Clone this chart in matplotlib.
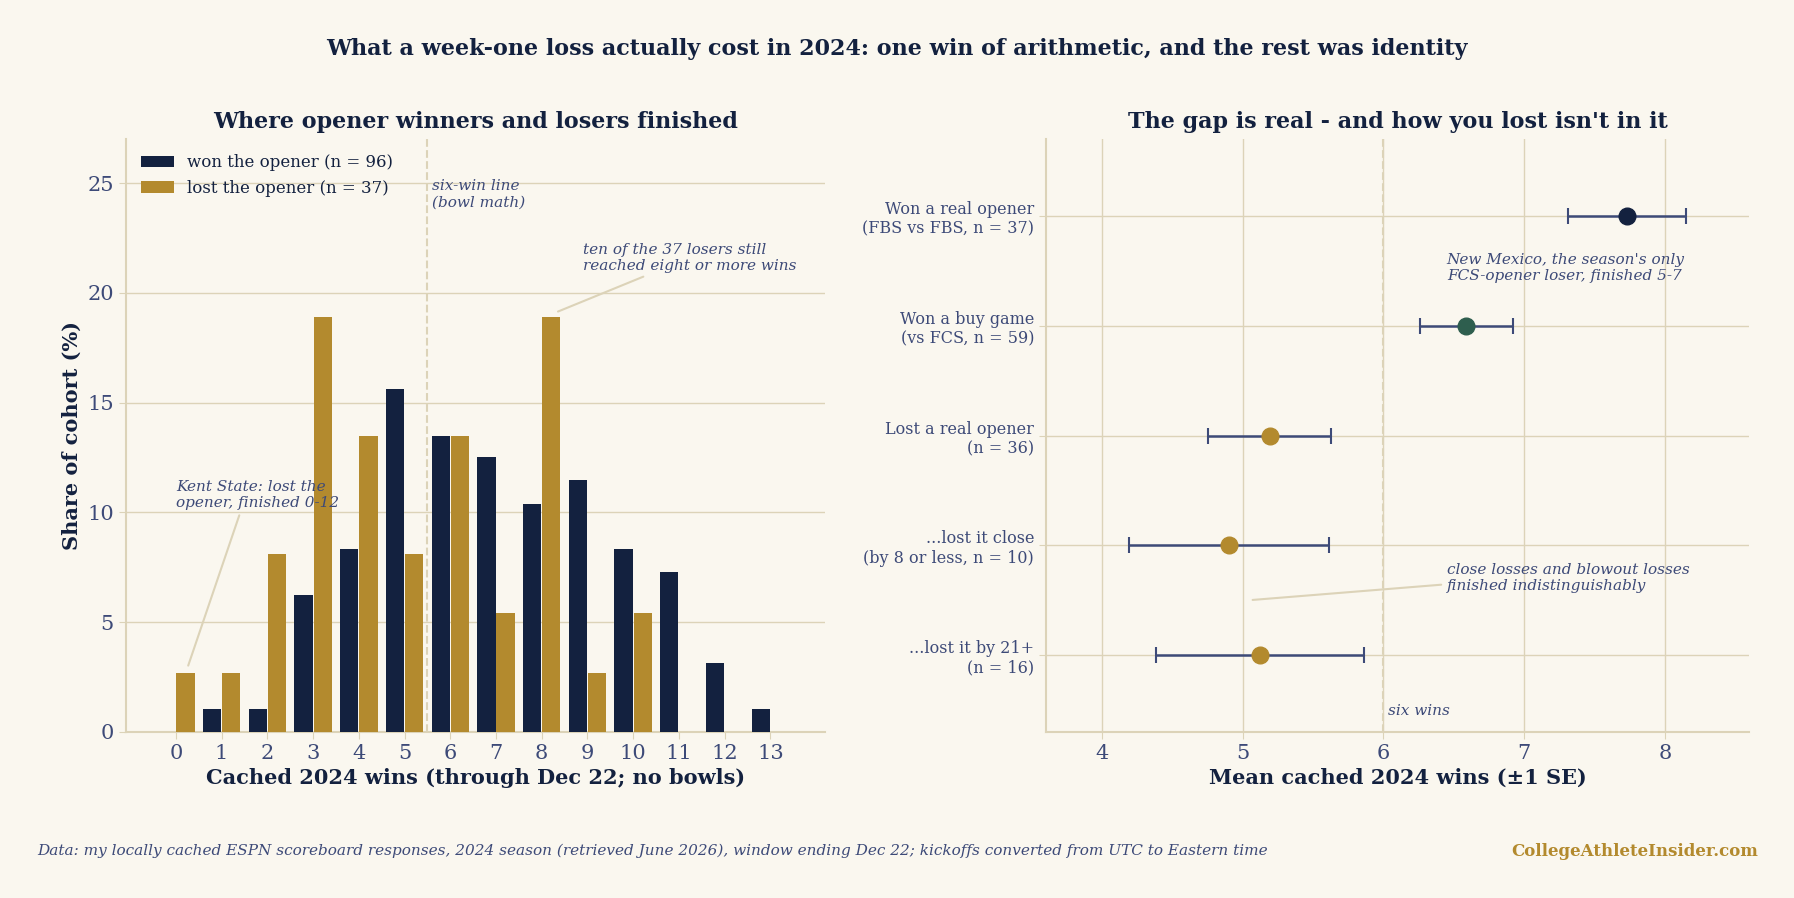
import matplotlib
matplotlib.use("Agg")
import matplotlib.pyplot as plt
import numpy as np

wins = list(range(14))
won_pct = [0, 1.04, 1.04, 6.25, 8.33, 15.6, 13.5, 12.5, 10.4, 11.46, 8.33, 7.29, 3.13, 1.04]
lost_pct = [2.7, 2.7, 8.1, 18.9, 13.5, 8.1, 13.5, 5.4, 18.9, 2.7, 5.4, 0, 0, 0]

groups = ["Won a real opener\n(FBS vs FBS, n = 37)", "Won a buy game\n(vs FCS, n = 59)",
          "Lost a real opener\n(n = 36)", "...lost it close\n(by 8 or less, n = 10)",
          "...lost it by 21+\n(n = 16)"]
means = [7.73, 6.59, 5.19, 4.90, 5.12]
ses = [0.42, 0.33, 0.44, 0.71, 0.74]

BG = "#faf7ef"; NAVY = "#13213f"; GOLD = "#b38a2e"; GREEN = "#2e5e4e"
TAN = "#dcd3b8"; TXT = "#3d4a78"
dot_colors = [NAVY, GREEN, GOLD, GOLD, GOLD]

plt.rcParams['font.family'] = ['DejaVu Serif']
fig = plt.figure(figsize=(17.94, 8.98), dpi=100, facecolor=BG)
ax1 = fig.add_axes([0.07, 0.185, 0.39, 0.66], facecolor=BG)
ax2 = fig.add_axes([0.583, 0.185, 0.392, 0.66], facecolor=BG)

fig.text(0.5, 0.945, "What a week-one loss actually cost in 2024: one win of arithmetic, and the rest was identity",
         ha="center", va="center", fontsize=16, fontweight="bold", color=NAVY)

x = np.array(wins)
w = 0.4
ax1.bar(x - 0.21, won_pct, w, color=NAVY, label="won the opener (n = 96)", zorder=3)
ax1.bar(x + 0.21, lost_pct, w, color=GOLD, label="lost the opener (n = 37)", zorder=3)
ax1.set_xlim(-1.1, 14.2); ax1.set_ylim(0, 27)
ax1.set_xticks(wins); ax1.set_yticks([0, 5, 10, 15, 20, 25])
ax1.yaxis.grid(True, color=TAN, lw=1, zorder=0)
ax1.axvline(5.5, color=TAN, ls="--", lw=1.5, zorder=2)
ax1.text(5.6, 24.5, "six-win line\n(bowl math)", fontsize=11, style="italic", color=TXT, va="center")
ax1.annotate("ten of the 37 losers still\nreached eight or more wins", xy=(8.3, 19.1), xytext=(8.9, 21.6),
             fontsize=11, style="italic", color=TXT, va="center",
             arrowprops=dict(arrowstyle="-", color=TAN, lw=1.5))
ax1.annotate("Kent State: lost the\nopener, finished 0-12", xy=(0.25, 2.9), xytext=(0.0, 10.8),
             fontsize=11, style="italic", color=TXT, va="center",
             arrowprops=dict(arrowstyle="-", color=TAN, lw=1.5, relpos=(0.4, 0)))
ax1.set_title("Where opener winners and losers finished", fontsize=16, fontweight="bold", color=NAVY, pad=8)
ax1.set_xlabel("Cached 2024 wins (through Dec 22; no bowls)", fontsize=15, fontweight="bold", color=NAVY)
ax1.set_ylabel("Share of cohort (%)", fontsize=15, fontweight="bold", color=NAVY)
ax1.legend(loc="upper left", frameon=False, fontsize=12, labelcolor=NAVY, bbox_to_anchor=(0.0, 1.0))

ypos = np.arange(len(groups))[::-1]
for yp, m, s, c in zip(ypos, means, ses, dot_colors):
    ax2.errorbar(m, yp, xerr=s, fmt="none", ecolor=TXT, elinewidth=1.8, capsize=6, capthick=1.5, zorder=3)
    ax2.plot(m, yp, "o", color=c, ms=12, zorder=4)
ax2.set_yticks(ypos); ax2.set_yticklabels(groups, fontsize=11.5, color=TXT)
ax2.set_xlim(3.6, 8.6); ax2.set_ylim(-0.7, 4.7)
ax2.set_xticks([4, 5, 6, 7, 8])
ax2.grid(True, color=TAN, lw=1, zorder=0)
ax2.axvline(6, color=TAN, ls="--", lw=1.5, zorder=2)
ax2.text(6.03, -0.55, "six wins", fontsize=11, style="italic", color=TXT)
ax2.text(6.45, 3.53, "New Mexico, the season's only\nFCS-opener loser, finished 5-7",
         fontsize=11, style="italic", color=TXT, va="center")
ax2.annotate("close losses and blowout losses\nfinished indistinguishably", xy=(5.05, 0.5), xytext=(6.45, 0.7),
             fontsize=11, style="italic", color=TXT, va="center",
             arrowprops=dict(arrowstyle="-", color=TAN, lw=1.5, relpos=(0, 0.3)))
ax2.set_title("The gap is real - and how you lost isn't in it", fontsize=16, fontweight="bold", color=NAVY, pad=8)
ax2.set_xlabel("Mean cached 2024 wins (±1 SE)", fontsize=15, fontweight="bold", color=NAVY)

for ax in (ax1, ax2):
    for sp in ("top", "right"):
        ax.spines[sp].set_visible(False)
    for sp in ("left", "bottom"):
        ax.spines[sp].set_color(TAN); ax.spines[sp].set_linewidth(1.5)
    ax.tick_params(colors=TAN, labelcolor=TXT, labelsize=15, length=5)
ax2.tick_params(axis="y", labelsize=11.5)

fig.text(0.021, 0.052, "Data: my locally cached ESPN scoreboard responses, 2024 season (retrieved June 2026), window ending Dec 22; kickoffs converted from UTC to Eastern time",
         fontsize=11, style="italic", color=TXT, va="center")
fig.text(0.98, 0.052, "CollegeAthleteInsider.com", fontsize=12, fontweight="bold", color=GOLD, ha="right", va="center")
fig.savefig("out.png", dpi=100, facecolor=BG)
